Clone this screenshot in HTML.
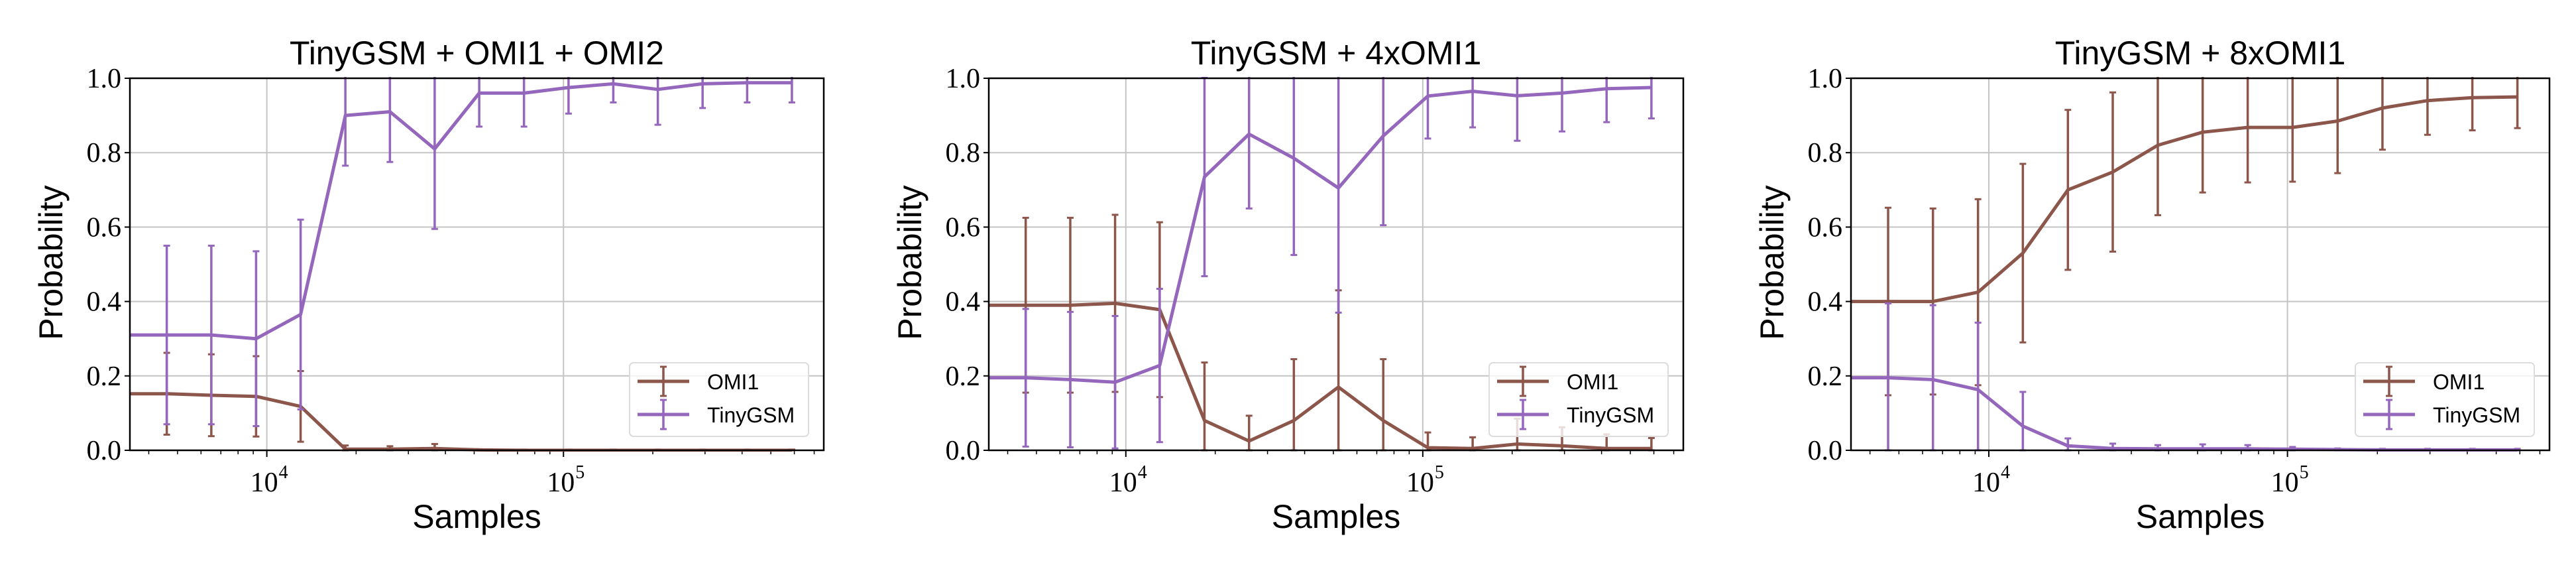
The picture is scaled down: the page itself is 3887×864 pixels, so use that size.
<!DOCTYPE html>
<html><head><meta charset="utf-8"><style>
html,body{margin:0;padding:0;background:#fff}
svg{display:block}
.t{font-family:"Liberation Sans",sans-serif;fill:#000}
.s{font-family:"Liberation Serif",serif;fill:#000}
</style></head><body>
<svg id="chart" width="3887" height="864" viewBox="0 0 3887 864" xmlns="http://www.w3.org/2000/svg"></svg>
<script>
const samples=[3250,4600,6500,9200,13000,18400,26000,36800,52000,73600,104000,147200,208000,294400,416000,588800];
const titles=["TinyGSM + OMI1 + OMI2","TinyGSM + 4xOMI1","TinyGSM + 8xOMI1"];
const yTicks=[0,0.2,0.4,0.6,0.8,1.0];
const yTickLabels=["0.0","0.2","0.4","0.6","0.8","1.0"];
const p1Omi=[0.152,0.152,0.148,0.145,0.118,0.003,0.003,0.005,0.001,0,0,0,0,0,0,0];
const p1OmiErr=[0.11,0.11,0.11,0.108,0.095,0.01,0.008,0.012,0.002,0.002,0.002,0.002,0.002,0.002,0.002,0.002];
const p1Tiny=[0.31,0.31,0.31,0.30,0.365,0.90,0.91,0.81,0.96,0.96,0.975,0.985,0.97,0.985,0.988,0.988];
const p1TinyErr=[0.24,0.24,0.24,0.235,0.255,0.135,0.135,0.215,0.09,0.09,0.07,0.05,0.095,0.065,0.053,0.053];
const p2Omi=[0.39,0.39,0.39,0.395,0.378,0.08,0.025,0.08,0.17,0.08,0.007,0.005,0.017,0.012,0.005,0.005];
const p2OmiErr=[0.235,0.235,0.235,0.238,0.235,0.156,0.068,0.165,0.26,0.165,0.041,0.03,0.068,0.05,0.038,0.028];
const p2Tiny=[0.195,0.195,0.19,0.183,0.228,0.735,0.85,0.785,0.705,0.845,0.952,0.965,0.953,0.96,0.972,0.975];
const p2TinyErr=[0.185,0.185,0.182,0.178,0.206,0.267,0.2,0.26,0.335,0.24,0.114,0.097,0.121,0.103,0.09,0.083];
const p3Omi=[0.40,0.40,0.40,0.425,0.53,0.70,0.748,0.82,0.855,0.868,0.868,0.885,0.92,0.94,0.948,0.95];
const p3OmiErr=[0.252,0.252,0.25,0.25,0.24,0.215,0.214,0.188,0.162,0.148,0.146,0.14,0.112,0.092,0.088,0.084];
const p3Tiny=[0.195,0.195,0.19,0.163,0.065,0.012,0.005,0.004,0.004,0.004,0.003,0.002,0.001,0.001,0.001,0.001];
const p3TinyErr=[0.2,0.2,0.2,0.18,0.092,0.02,0.013,0.01,0.012,0.01,0.006,0.003,0.003,0.003,0.003,0.003];
const panelData=[[p1Omi,p1OmiErr,p1Tiny,p1TinyErr],[p2Omi,p2OmiErr,p2Tiny,p2TinyErr],[p3Omi,p3OmiErr,p3Tiny,p3TinyErr]];

const NS="http://www.w3.org/2000/svg";
const svg=document.getElementById('chart');
function mk(tag,attrs,parent,text){const e=document.createElementNS(NS,tag);for(const k in attrs)e.setAttribute(k,attrs[k]);if(text!==undefined)e.textContent=text;(parent||svg).appendChild(e);return e;}
const lefts=[196,1492,2793], widths=[1047,1048,1054];
const top0=118,bot0=679;
const xmin=Math.log10(3455),xmax=Math.log10(754000);
const BROWN="#8c564b",PURPLE="#9467bd";

for(let p=0;p<3;p++){
  const L=lefts[p],W=widths[p];
  const xs=v=>L+(Math.log10(v)-xmin)/(xmax-xmin)*W;
  const ys=v=>bot0-v*(bot0-top0);
  const g=mk('g',{});
  
  
  const cp=mk('clipPath',{id:'cp'+p},g);mk('rect',{x:L,y:top0-2,width:W,height:bot0-top0+4},cp);
  yTicks.forEach((t,i)=>{
    const y=ys(t);
    if(t>0&&t<1){const gl=mk('line',{x1:L,x2:L+W,y1:y,y2:y,stroke:'#c4c4c4','stroke-width':2},g);}
    mk('line',{x1:L-8,x2:L,y1:y,y2:y,stroke:'#000','stroke-width':2},g);
    const tl=mk('text',{x:L-13,y:y+14,'text-anchor':'end','font-size':42,class:'s'},g,yTickLabels[i]);
    
  });
  [4,5].forEach(e=>{
    const x=xs(Math.pow(10,e));
    const gl=mk('line',{x1:x,x2:x,y1:top0,y2:bot0,stroke:'#c4c4c4','stroke-width':2},g);
    
    mk('line',{x1:x,x2:x,y1:bot0,y2:bot0+10,stroke:'#000','stroke-width':2},g);
    const tl=mk('text',{x:x-4,y:bot0+62,'text-anchor':'middle','font-size':42,class:'s'},g,'10');
    
    mk('text',{x:x+18,y:bot0+42,'font-size':28,class:'s'},g,String(e));
  });
  for(let e=3;e<=5;e++)for(let m=2;m<=9;m++){
    const v=m*Math.pow(10,e);const x=xs(v);
    if(x<L||x>L+W)continue;
    mk('line',{x1:x,x2:x,y1:bot0,y2:bot0+6,stroke:'#000','stroke-width':1.5},g);
  }
  const series=[[panelData[p][0],panelData[p][1],BROWN,'omi1'],[panelData[p][2],panelData[p][3],PURPLE,'tinygsm']];
  series.forEach(([vals,errs,col,nm])=>{
    const sg=mk('g',{'clip-path':'url(#cp'+p+')'},g);
    
    vals.forEach((v,i)=>{
      const x=xs(samples[i]);const y1=ys(Math.max(0,v-errs[i])),y2=ys(Math.min(1.2,v+errs[i]));
      const eb=mk('line',{x1:x,x2:x,y1:y1,y2:y2,stroke:col,'stroke-width':3.5},sg);
      
      mk('line',{x1:x-5,x2:x+5,y1:y1,y2:y1,stroke:col,'stroke-width':3},sg);
      mk('line',{x1:x-5,x2:x+5,y1:y2,y2:y2,stroke:col,'stroke-width':3},sg);
    });
    const pts=vals.map((v,i)=>xs(samples[i]).toFixed(1)+','+ys(v).toFixed(1)).join(' ');
    const pl=mk('polyline',{points:pts,fill:'none',stroke:col,'stroke-width':5,'stroke-linejoin':'round'},sg);
    
  });
  const fr=mk('rect',{x:L,y:top0,width:W,height:bot0-top0,fill:'none',stroke:'#000','stroke-width':2.5},g);
  
  const tt=mk('text',{x:L+W/2,y:97,'text-anchor':'middle','font-size':50,class:'t'},g,titles[p]);
  
  const xl=mk('text',{x:L+W/2,y:796,'text-anchor':'middle','font-size':50,class:'t'},g,'Samples');
  
  const yl=mk('text',{x:0,y:0,'text-anchor':'middle','font-size':50,class:'t',transform:'translate('+(L-102)+',396) rotate(-90)'},g,'Probability');
  
  const lx=L+W-293, ly=top0+429;
  const lg=mk('g',{},g);
  
  mk('rect',{x:lx,y:ly,width:270,height:111,rx:6,fill:'#fff','fill-opacity':0.8,stroke:'#dcdcdc','stroke-width':2},lg);
  [[BROWN,'OMI1',28],[PURPLE,'TinyGSM',78]].forEach(([col,lab,dy])=>{
    const e=mk('g',{},lg);
    
    mk('line',{x1:lx+12,x2:lx+90,y1:ly+dy,y2:ly+dy,stroke:col,'stroke-width':5},e);
    mk('line',{x1:lx+51,x2:lx+51,y1:ly+dy-22,y2:ly+dy+22,stroke:col,'stroke-width':3.5},e);
    mk('line',{x1:lx+46,x2:lx+56,y1:ly+dy-22,y2:ly+dy-22,stroke:col,'stroke-width':3},e);
    mk('line',{x1:lx+46,x2:lx+56,y1:ly+dy+22,y2:ly+dy+22,stroke:col,'stroke-width':3},e);
    mk('text',{x:lx+117,y:ly+dy+12,'font-size':32,class:'t'},e,lab);
  });
}
</script>
</body></html>
